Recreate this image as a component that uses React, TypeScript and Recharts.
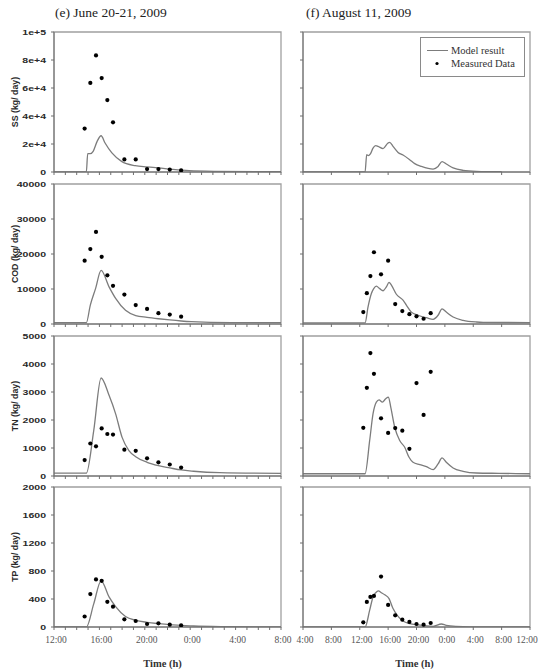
import React from "react";
import {
  ComposedChart,
  Line,
  Scatter,
  XAxis,
  YAxis,
  ReferenceArea,
  Legend,
} from "recharts";

// hours are decimal clock time; values past 24 fall on the next day

// (e) June 20-21, 2009 — grab samples
const JUNE_SAMPLE_T = [14.7, 15.2, 15.7, 16.2, 16.7, 17.2, 18.2, 19.2, 20.2, 21.2, 22.2, 23.2];
const JUNE_SS_OBS = [31000, 63600, 83300, 67100, 51400, 35500, 9000, 9000, 2100, 2100, 1700, 1200];
const JUNE_COD_OBS = [18100, 21400, 26300, 19200, 13900, 10900, 8400, 5400, 4300, 3100, 2700, 2100];
const JUNE_TN_OBS = [570, 1160, 1060, 1700, 1500, 1480, 940, 900, 630, 490, 410, 300];
const JUNE_TP_OBS = [150, 470, 680, 660, 360, 290, 110, 86, 43, 53, 33, 24];

// (e) model output
const JUNE_SS_MODEL_T = [12, 14.85, 14.97, 15.2, 15.45, 15.8, 16.15, 16.5, 17.1, 17.95, 19.15, 20.2, 21.2, 22.4, 23.9, 26.2, 32];
const JUNE_SS_MODEL = [0, 0, 13100, 13100, 14800, 21900, 25900, 20700, 13600, 7600, 4500, 3600, 2900, 1900, 950, 500, 200];
const JUNE_COD_MODEL_T = [12, 14.85, 15.2, 15.66, 16.15, 16.85, 17.43, 18.3, 19.2, 20.2, 21.2, 22.2, 23.2, 24.1, 27.6, 32];
const JUNE_COD_MODEL = [400, 400, 5400, 10100, 15300, 10600, 7300, 3900, 2400, 1900, 1500, 1150, 860, 670, 400, 380];
const JUNE_TN_MODEL_T = [12, 14.85, 15.5, 16.15, 16.85, 17.43, 18.0, 18.6, 19.2, 20.2, 21.2, 22.2, 23.2, 24.3, 26.6, 32];
const JUNE_TN_MODEL = [100, 100, 1620, 3500, 2880, 2220, 1380, 910, 690, 490, 370, 290, 215, 170, 120, 95];
const JUNE_TP_MODEL_T = [12, 14.85, 15.5, 16.15, 16.85, 17.43, 18.3, 19.2, 20.2, 21.2, 22.2, 23.2, 24.3, 27.2, 32];
const JUNE_TP_MODEL = [0, 0, 330, 660, 430, 290, 150, 96, 67, 48, 33, 24, 14, 5, 0];

// (f) August 11, 2009 — grab samples (no SS samples)
const AUG_SAMPLE_T = [12.5, 13, 13.5, 14, 15, 16, 17, 18, 19, 20, 21, 22];
const AUG_COD_OBS = [3400, 8800, 13700, 20500, 14200, 18100, 5700, 3700, 2800, 2200, 1500, 3100];
const AUG_TN_OBS = [1720, 3150, 4390, 3650, 2060, 1540, 1710, 1620, 970, 3320, 2180, 3720];
const AUG_TP_OBS = [67, 358, 430, 444, 720, 315, 167, 105, 72, 43, 33, 57];

// (f) model output
const AUG_SS_MODEL_T = [4, 12.75, 12.98, 13.2, 13.5, 13.87, 14.25, 14.58, 15.28, 15.99, 16.22, 16.69, 17.4, 18.1, 19.04, 19.75, 20.7, 22.34, 23.04, 23.6, 24.2, 25.16, 26.57, 28.45, 32];
const AUG_SS_MODEL = [0, 0, 12400, 11700, 12900, 17100, 18800, 18300, 16700, 20700, 21200, 18300, 14000, 12100, 8800, 6000, 4000, 2100, 4000, 7400, 5700, 2900, 1200, 500, 200];
const AUG_COD_MODEL_T = [4, 12.75, 13.17, 13.64, 13.97, 14.34, 14.81, 15.28, 15.75, 16.13, 16.46, 17.16, 18.1, 18.57, 19.28, 20.22, 21.4, 22.34, 23.04, 23.6, 24.2, 25.16, 26.57, 28.45, 29.4, 36];
const AUG_COD_MODEL = [300, 300, 4900, 8700, 10100, 10800, 10100, 9500, 10600, 11900, 11100, 8500, 6800, 5400, 3400, 2500, 1800, 1340, 2500, 4300, 3400, 2000, 1050, 570, 480, 380];
const AUG_TN_MODEL_T = [4, 12.75, 13.4, 13.87, 14.34, 14.72, 15.19, 15.66, 16.04, 16.37, 16.93, 17.63, 18.34, 18.95, 19.51, 20.46, 21.4, 22.34, 23.04, 23.6, 24.2, 25.16, 26.57, 28.45, 31.64, 36];
const AUG_TN_MODEL = [80, 80, 1270, 2220, 2640, 2720, 2640, 2760, 2820, 2460, 1740, 1265, 1026, 668, 489, 406, 334, 227, 430, 644, 489, 286, 167, 107, 95, 80];
const AUG_TP_MODEL_T = [4, 12.75, 13.4, 13.87, 14.25, 14.62, 15.05, 15.52, 16.13, 16.69, 17.4, 18.1, 19.04, 20.22, 22.34, 23.51, 24.2, 25.6, 29.4, 36];
const AUG_TP_MODEL = [0, 0, 240, 430, 490, 516, 490, 460, 406, 263, 153, 86, 48, 29, 10, 43, 24, 10, 0, 0];

// axis ticks
const JUNE_HOUR_TICKS = [12, 13, 14, 15, 16, 17, 18, 19, 20, 21, 22, 23, 24, 25, 26, 27, 28, 29, 30, 31, 32];
const AUG_HOUR_TICKS = [4, 8, 12, 16, 20, 24, 28, 32, 36];
const SS_TICKS = [0, 20000, 40000, 60000, 80000, 100000];
const COD_TICKS = [0, 10000, 20000, 30000, 40000];
const TN_TICKS = [0, 1000, 2000, 3000, 4000, 5000];
const TP_TICKS = [0, 400, 800, 1200, 1600, 2000];

const ROW_TOPS = [32, 184, 336, 487];
const PLOT_H = 140;
const PAGE_W = 538;

const LEGEND_ITEMS = [
  { label: "Model result", kind: "line" },
  { label: "Measured Data", kind: "dot" },
];

const AXIS_COLOR = "#6f6f6f";
const FRAME_COLOR = "#a0a0a0";
const MODEL_COLOR = "#7c7c7c";
const SERIF = "'Liberation Serif', 'DejaVu Serif', serif";
const SANS = "'Liberation Sans', Arial, sans-serif";

const zip = (t: number[], v: number[]) => t.map((x, i) => ({ t: x, v: v[i] }));

function fmtSci(v: number) {
  if (v === 0) return "0";
  const e = Math.floor(Math.log10(v));
  return `${v / 10 ** e}e+${e}`;
}
const fmtPlain = (v: number) => String(v);
const fmtClock = (t: number) => `${t % 24}:00`;

function YTick(props: any) {
  const { x, y, payload, fmt } = props;
  if (!fmt) return <g />;
  return (
    <text
      x={0}
      y={0}
      dy="0.36em"
      textAnchor="end"
      transform={`translate(${x} ${y}) scale(1.35 1)`}
      fontFamily={SANS}
      fontWeight="bold"
      fontSize={7.8}
      fill="#2a2a2a"
    >
      {fmt(payload.value)}
    </text>
  );
}

function XTick(props: any) {
  const { x, y, payload, show, labelEvery, pageX } = props;
  const t = payload.value as number;
  if (!show || (labelEvery && (t - 12) % labelEvery !== 0)) return <g />;
  // keep the last label inside the page edge
  const cx = Math.min(x + 2, PAGE_W - pageX - 11);
  return (
    <text x={cx} y={y} dy="0.71em" textAnchor="middle" fontFamily={SERIF} fontSize={9.5} fill="#555">
      {fmtClock(t)}
    </text>
  );
}

function LegendBox() {
  return (
    <div
      style={{
        width: 105,
        height: 40,
        boxSizing: "border-box",
        border: "1px solid #8a8a8a",
        background: "#fff",
        padding: "6px 0 0 6px",
        fontFamily: SERIF,
        fontSize: 10.5,
        color: "#333",
        lineHeight: "13px",
      }}
    >
      {LEGEND_ITEMS.map((it) => (
        <div key={it.label} style={{ display: "flex", alignItems: "center" }}>
          <svg width={24} height={13}>
            {it.kind === "line" ? (
              <line x1={0} x2={21} y1={6.5} y2={6.5} stroke={MODEL_COLOR} strokeWidth={1} />
            ) : (
              <circle cx={10} cy={6.5} r={1.6} fill="#000" />
            )}
          </svg>
          <span>{it.label}</span>
        </div>
      ))}
    </div>
  );
}

interface PanelProps {
  side: "left" | "right";
  row: number;
  model: { t: number; v: number }[];
  obs?: { t: number; v: number }[];
  yTicks: number[];
  yFmt: (v: number) => string;
  yLabel?: string;
  legend?: boolean;
}

function Panel({ side, row, model, obs, yTicks, yFmt, yLabel, legend }: PanelProps) {
  const isLeft = side === "left";
  const bottomRow = row === 3;
  const xh = bottomRow ? 42 : 12;
  const pageX = isLeft ? 0 : 290;
  const width = isLeft ? 296 : 248;
  const height = 8 + PLOT_H + xh;
  const xDomain = isLeft ? [12, 32] : [4, 36];
  const xTicks = isLeft ? JUNE_HOUR_TICKS : AUG_HOUR_TICKS;
  const yMax = yTicks[yTicks.length - 1];

  return (
    <div style={{ position: "absolute", left: pageX, top: ROW_TOPS[row] - 8 }}>
      <ComposedChart
        width={width}
        height={height}
        margin={isLeft ? { top: 8, right: 15, left: 10, bottom: 0 } : { top: 8, right: 8, left: 5, bottom: 0 }}
      >
        <XAxis
          dataKey="t"
          type="number"
          domain={xDomain}
          ticks={xTicks}
          interval={0}
          allowDataOverflow
          height={xh}
          tickSize={3}
          tickMargin={6}
          stroke={AXIS_COLOR}
          tick={<XTick show={bottomRow} labelEvery={isLeft ? 4 : 0} pageX={pageX} />}
          label={
            bottomRow
              ? {
                  value: "Time (h)",
                  position: "insideBottom",
                  offset: 2,
                  dx: isLeft ? -5 : -2,
                  style: { fontFamily: SERIF, fontWeight: "bold", fontSize: 10.5, fill: "#333" },
                }
              : undefined
          }
        />
        <YAxis
          dataKey="v"
          type="number"
          domain={[0, yMax]}
          ticks={yTicks}
          interval={0}
          allowDataOverflow
          width={isLeft ? 44 : 8}
          tickSize={3}
          tickMargin={5}
          stroke={AXIS_COLOR}
          tick={<YTick fmt={isLeft ? yFmt : undefined} />}
          label={
            yLabel
              ? {
                  value: yLabel,
                  angle: -90,
                  position: "insideLeft",
                  offset: 5,
                  style: { textAnchor: "middle", fontFamily: SANS, fontWeight: "bold", fontSize: 8.8, fill: "#2a2a2a" },
                }
              : undefined
          }
        />
        <ReferenceArea
          x1={xDomain[0]}
          x2={xDomain[1]}
          y1={0}
          y2={yMax}
          fill="none"
          stroke={FRAME_COLOR}
          strokeWidth={1.3}
        />
        <Line
          data={model}
          dataKey="v"
          name="Model result"
          type="monotone"
          stroke={MODEL_COLOR}
          strokeWidth={1.3}
          dot={false}
          activeDot={false}
          isAnimationActive={false}
        />
        {obs && (
          <Scatter
            data={obs}
            dataKey="v"
            name="Measured Data"
            fill="#000"
            shape={(p: any) => <circle cx={p.cx} cy={p.cy} r={2.1} fill="#000" />}
            isAnimationActive={false}
          />
        )}
        {legend && (
          <Legend
            layout="horizontal"
            verticalAlign="middle"
            align="center"
            content={() => <LegendBox />}
            wrapperStyle={{ position: "absolute", left: 130, top: 13, width: 105, height: 40 }}
          />
        )}
      </ComposedChart>
    </div>
  );
}

const titleStyle: React.CSSProperties = {
  position: "absolute",
  top: 5,
  fontFamily: SERIF,
  fontSize: 13.5,
  color: "#222",
  whiteSpace: "nowrap",
};

export default function App() {
  return (
    <div
      style={{
        position: "absolute",
        left: 0,
        top: 0,
        width: PAGE_W,
        height: 669,
        background: "#fff",
        overflow: "hidden",
      }}
    >
      <div style={{ ...titleStyle, left: 55 }}>(e) June 20-21, 2009</div>
      <div style={{ ...titleStyle, left: 306 }}>(f) August 11, 2009</div>

      <Panel side="left" row={0} model={zip(JUNE_SS_MODEL_T, JUNE_SS_MODEL)} obs={zip(JUNE_SAMPLE_T, JUNE_SS_OBS)} yTicks={SS_TICKS} yFmt={fmtSci} yLabel="SS (kg/ day)" />
      <Panel side="left" row={1} model={zip(JUNE_COD_MODEL_T, JUNE_COD_MODEL)} obs={zip(JUNE_SAMPLE_T, JUNE_COD_OBS)} yTicks={COD_TICKS} yFmt={fmtPlain} yLabel="COD (kg/ day)" />
      <Panel side="left" row={2} model={zip(JUNE_TN_MODEL_T, JUNE_TN_MODEL)} obs={zip(JUNE_SAMPLE_T, JUNE_TN_OBS)} yTicks={TN_TICKS} yFmt={fmtPlain} yLabel="TN (kg/ day)" />
      <Panel side="left" row={3} model={zip(JUNE_TP_MODEL_T, JUNE_TP_MODEL)} obs={zip(JUNE_SAMPLE_T, JUNE_TP_OBS)} yTicks={TP_TICKS} yFmt={fmtPlain} yLabel="TP (kg/ day)" />

      <Panel side="right" row={0} model={zip(AUG_SS_MODEL_T, AUG_SS_MODEL)} yTicks={SS_TICKS} yFmt={fmtSci} legend />
      <Panel side="right" row={1} model={zip(AUG_COD_MODEL_T, AUG_COD_MODEL)} obs={zip(AUG_SAMPLE_T, AUG_COD_OBS)} yTicks={COD_TICKS} yFmt={fmtPlain} />
      <Panel side="right" row={2} model={zip(AUG_TN_MODEL_T, AUG_TN_MODEL)} obs={zip(AUG_SAMPLE_T, AUG_TN_OBS)} yTicks={TN_TICKS} yFmt={fmtPlain} />
      <Panel side="right" row={3} model={zip(AUG_TP_MODEL_T, AUG_TP_MODEL)} obs={zip(AUG_SAMPLE_T, AUG_TP_OBS)} yTicks={TP_TICKS} yFmt={fmtPlain} />
    </div>
  );
}
